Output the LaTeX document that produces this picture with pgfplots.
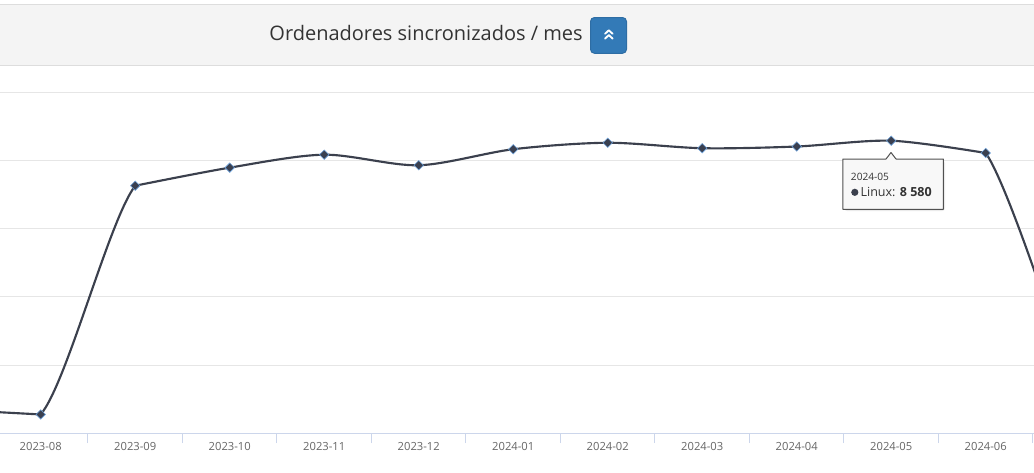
\documentclass[border=0pt]{standalone}
\usepackage{pgfplots}
\pgfplotsset{compat=1.18}
\usepackage{fontspec}
\setmainfont{Open Sans}
\definecolor{gridc}{HTML}{E6E6E6}
\definecolor{axisc}{HTML}{CCD6EB}
\definecolor{labc}{HTML}{666666}
\definecolor{linec}{HTML}{3B404D}
\definecolor{markc}{HTML}{3A4050}
\definecolor{markedge}{HTML}{6FA3DC}
\definecolor{hdrbg}{HTML}{F4F4F4}
\definecolor{hdrline}{HTML}{DDDDDD}
\definecolor{btn}{HTML}{337AB7}
\definecolor{btnb}{HTML}{2E6DA4}
\definecolor{titlec}{HTML}{333333}
\definecolor{tipb}{HTML}{505050}
\definecolor{tipbg}{HTML}{F8F8F8}

\pgfplotsset{
  chartgeom/.style={
    scale only axis,
    height=255.675pt,
    ymin=0, ymax=10000,
    anchor=south west,
  },
  serie/.style={linec, line width=1.6pt, line cap=round, line join=round, mark=none},
}

\begin{document}
\begin{tikzpicture}
\useasboundingbox (0,0) rectangle (775.5pt,-354pt);
\fill[white] (0,0) rectangle (775.5pt,-354pt);
\begin{scope}[x=0.75pt,y=-0.75pt]
  % header
  \fill[hdrbg] (0,4.5) rectangle (1034,65);
  \draw[hdrline, line width=0.75pt] (0,4.5) -- (1034,4.5);
  \draw[hdrline, line width=0.75pt] (0,65) -- (1034,65);
  \node[anchor=base east, font=\fontsize{15}{18}\selectfont, text=titlec, inner sep=0pt] at (583,40) {Ordenadores sincronizados / mes};
  \draw[btnb, fill=btn, line width=0.75pt, rounded corners=3pt] (590.5,17.5) rectangle (626.5,53.3);
  \draw[white, line width=1.4pt, line cap=round, line join=round] (605,33.8) -- (608.8,30.3) -- (612.6,33.8);
  \draw[white, line width=1.4pt, line cap=round, line join=round] (605,38.6) -- (608.8,35.1) -- (612.6,38.6);
\end{scope}

% main axis: grid, x axis, line
\begin{axis}[chartgeom, width=775.5pt, at={(0pt,-324.9pt)},
  xmin=-0.431, xmax=10.511,
  axis x line*=bottom, axis y line*=left,
  y axis line style={draw=none},
  x axis line style={draw=axisc, line width=0.75pt},
  xtick={0,...,10},
  xticklabels={2023-08,2023-09,2023-10,2023-11,2023-12,2024-01,2024-02,2024-03,2024-04,2024-05,2024-06},
  minor xtick={-0.5,0.5,...,10.5},
  ytick={2000,4000,6000,8000,10000},
  yticklabels={},
  scaled y ticks=false,
  ymajorgrids,
  major grid style={draw=gridc, line width=0.75pt},
  major tick length=0pt,
  minor tick length=7.5pt,
  tick align=outside,
  minor x tick style={draw=axisc, line width=0.75pt},
  xticklabel style={font=\fontsize{8.4}{10}\selectfont, text=labc, anchor=base, inner sep=0pt, yshift=-12.75pt},
]
\addplot[serie, sharp plot] coordinates {(-1,700) (0,550)};
\addplot[serie, smooth, tension=0.5] coordinates {(1,7260) (2,7790) (3,8170) (4,7860) (5,8330) (6,8520) (7,8360) (8,8410) (9,8580) (10,8220)};
\end{axis}

% segment 2023-08 -> 2023-09
\begin{axis}[chartgeom, width=70.875pt, at={(30.525pt,-324.9pt)}, xmin=0, xmax=1, hide axis]
\addplot[serie, smooth, tension=0.5] coordinates {(-1,700) (0,550) (1,7260) (2,7790)};
\end{axis}

% segment after 2024-06
\begin{axis}[chartgeom, width=36.225pt, at={(739.275pt,-324.9pt)}, xmin=10, xmax=10.511, hide axis]
\addplot[serie, smooth, tension=0.5] coordinates {(9,8580) (10,8220) (11,700)};
\end{axis}

% markers
\begin{axis}[chartgeom, width=775.5pt, at={(0pt,-324.9pt)}, xmin=-0.431, xmax=10.511, hide axis]
\addplot[only marks, mark=square*, mark size=2.5pt, mark options={rotate=45, fill=markc, draw=markedge, line width=0.45pt}]
  coordinates {(0,550) (1,7260) (2,7790) (3,8170) (4,7860) (5,8330) (6,8520) (7,8360) (8,8410) (9,8580) (10,8220)};
\end{axis}

% tooltip
\begin{scope}[x=0.75pt,y=-0.75pt]
  \fill[black, opacity=0.08, rounded corners=2pt] (844.3,160.5) -- (945,160.5) -- (945,211) -- (844.3,211) -- cycle;
  \draw[draw=tipb, fill=tipbg, line width=0.75pt, line join=round] (842.8,159) -- (886,159) -- (891,152.5) -- (896,159) -- (943.3,159) -- (943.3,209.3) -- (842.8,209.3) -- cycle;
  \node[anchor=base west, font=\fontsize{7.6}{9}\selectfont, text=titlec, inner sep=0pt] at (850.7,180.3) {2024-05};
  \fill[linec] (854.8,192.3) circle (2.7pt);
  \node[anchor=base west, font=\fontsize{9.4}{11}\selectfont, text=titlec, inner sep=0pt] at (860.3,196.8) {Linux: \textbf{8 580}};
\end{scope}
\end{tikzpicture}
\end{document}
